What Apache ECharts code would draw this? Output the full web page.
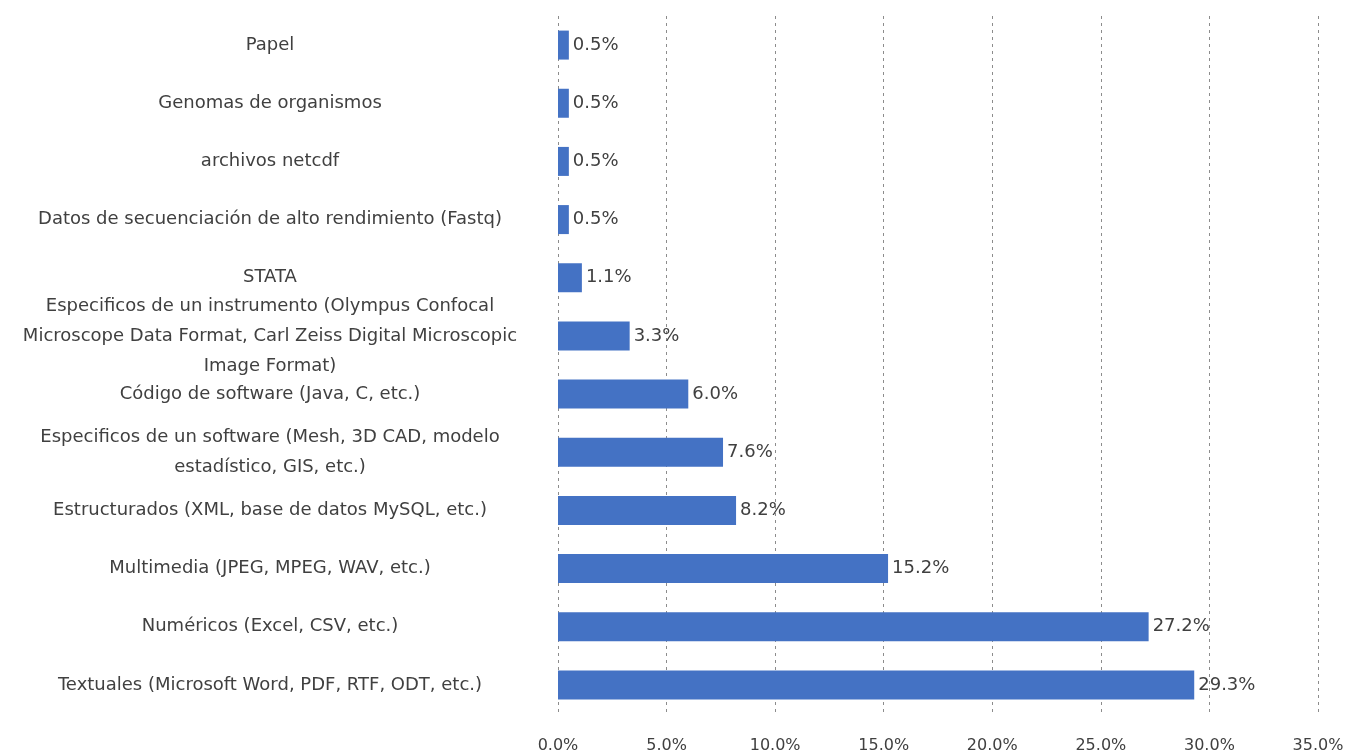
<!DOCTYPE html>
<html>
<head>
<meta charset="utf-8">
<script src="https://cdn.jsdelivr.net/npm/echarts@6/dist/echarts.min.js"></script>
<style>
  html, body { margin: 0; padding: 0; background: #fff; }
  #chart { width: 1349px; height: 755px; }
</style>
</head>
<body>
<div id="chart"></div>
<script>
// categories, bottom to top (as drawn on the y axis)
var categories = [
  'Textuales (Microsoft Word, PDF, RTF, ODT, etc.)',
  'Numéricos (Excel, CSV, etc.)',
  'Multimedia (JPEG, MPEG, WAV, etc.)',
  'Estructurados (XML, base de datos MySQL, etc.)',
  'Especificos de un software (Mesh, 3D CAD, modelo\nestadístico, GIS, etc.)',
  'Código de software (Java, C, etc.)',
  'Especificos de un instrumento (Olympus Confocal\nMicroscope Data Format, Carl Zeiss Digital Microscopic\nImage Format)',
  'STATA',
  'Datos de secuenciación de alto rendimiento (Fastq)',
  'archivos netcdf',
  'Genomas de organismos',
  'Papel'
];
var values = [29.3, 27.2, 15.2, 8.2, 7.6, 6.0, 3.3, 1.1, 0.5, 0.5, 0.5, 0.5];
var tickMax = 35;
var tickStep = 5;

var myChart = echarts.init(document.getElementById('chart'));
var option = {
  animation: false,
  textStyle: {
    fontFamily: 'DejaVu Sans'
  },
  grid: {
    left: 558,
    right: 31,
    top: 16,
    bottom: 41
  },
  xAxis: {
    type: 'value',
    min: 0,
    max: tickMax,
    interval: tickStep,
    axisLine: { show: false },
    axisTick: { show: false },
    axisLabel: {
      margin: 24,
      fontSize: 16,
      color: '#404040',
      formatter: function (v) { return v.toFixed(1) + '%'; }
    },
    splitLine: {
      show: true,
      lineStyle: { color: '#8c8c8c', type: [3, 4], width: 1 }
    }
  },
  yAxis: {
    type: 'category',
    data: categories,
    axisLine: { show: false },
    axisTick: { show: false },
    axisLabel: {
      align: 'center',
      margin: 288,
      fontSize: 18,
      lineHeight: 30,
      color: '#404040',
      interval: 0
    }
  },
  series: [
    {
      name: 'valores',
      type: 'bar',
      data: values,
      barWidth: 29,
      itemStyle: { color: '#4472C4' },
      label: {
        show: true,
        position: 'right',
        distance: 4,
        fontSize: 18,
        color: '#404040',
        formatter: function (p) { return p.value.toFixed(1) + '%'; }
      }
    }
  ]
};
option && myChart.setOption(option);
</script>
</body>
</html>
